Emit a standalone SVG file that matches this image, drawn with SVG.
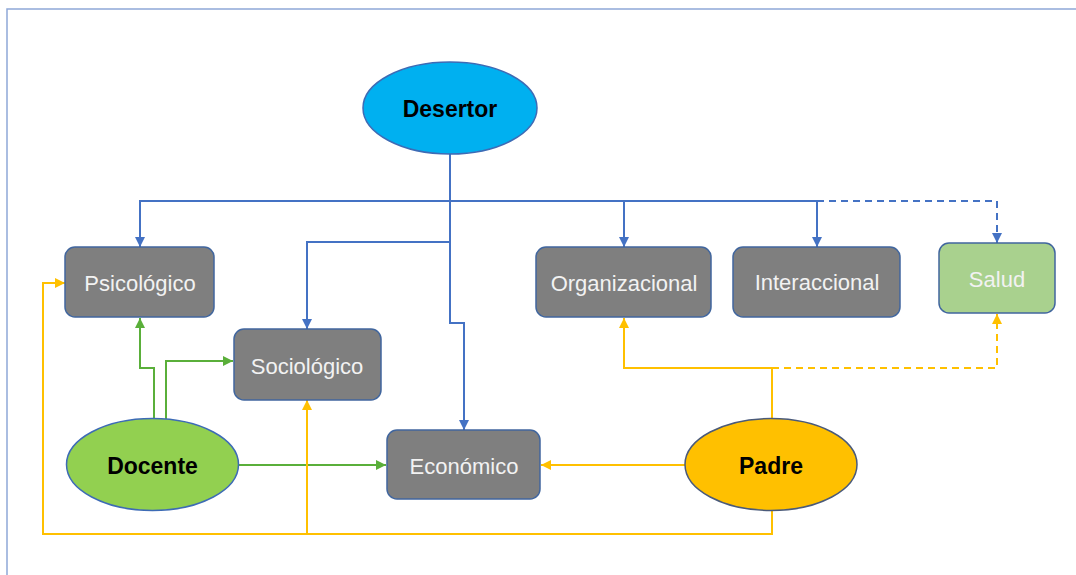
<svg xmlns="http://www.w3.org/2000/svg" width="1076" height="575" viewBox="0 0 1076 575">
<style>
.box{fill:#7F7F7F;stroke:#41669E;stroke-width:1.5}
.lbl{font-family:"Liberation Sans",Arial,sans-serif;font-size:22px;fill:#F2F2F2;text-anchor:middle;dominant-baseline:central}
.blbl{font-family:"Liberation Sans",Arial,sans-serif;font-size:23px;font-weight:bold;fill:#000;text-anchor:middle;dominant-baseline:central}
.b{fill:none;stroke:#4472C4;stroke-width:2}
.g{fill:none;stroke:#5AAF3A;stroke-width:2}
.y{fill:none;stroke:#FFC000;stroke-width:2}
.d{stroke-dasharray:7,5}
</style>
<defs>
<marker id="ab" viewBox="0 0 10 10" refX="10" refY="5" markerWidth="5" markerHeight="5" orient="auto"><path d="M0,0L10,5L0,10z" fill="#4472C4"/></marker>
<marker id="ag" viewBox="0 0 10 10" refX="10" refY="5" markerWidth="5" markerHeight="5" orient="auto"><path d="M0,0L10,5L0,10z" fill="#5AAF3A"/></marker>
<marker id="ay" viewBox="0 0 10 10" refX="10" refY="5" markerWidth="5" markerHeight="5" orient="auto"><path d="M0,0L10,5L0,10z" fill="#FFC000"/></marker>
</defs>
<rect x="0" y="0" width="1076" height="575" fill="#fff"/>
<rect x="7" y="9" width="1080" height="580" fill="none" stroke="#8FA8D8" stroke-width="1.5"/>
<g id="connectors">
<path class="b" d="M450,154 V323 H464 V430" marker-end="url(#ab)"/>
<path class="b" d="M450,201 H140 V247" marker-end="url(#ab)"/>
<path class="b" d="M450,242 H307 V329" marker-end="url(#ab)"/>
<path class="b" d="M450,201 H624 V247" marker-end="url(#ab)"/>
<path class="b" d="M624,201 H817 V247" marker-end="url(#ab)"/>
<path class="b d" d="M817,201 H997 V243" marker-end="url(#ab)"/>
<path class="g" d="M154,419 V368 H140 V318" marker-end="url(#ag)"/>
<path class="g" d="M166,419 V361 H233" marker-end="url(#ag)"/>
<path class="g" d="M239,465 H386" marker-end="url(#ag)"/>
<path class="y" d="M685,465 H541" marker-end="url(#ay)"/>
<path class="y" d="M772,511 V534 H43 V283 H65" marker-end="url(#ay)"/>
<path class="y" d="M307,534 V400" marker-end="url(#ay)"/>
<path class="y" d="M772,419 V368 H624 V318" marker-end="url(#ay)"/>
<path class="y d" d="M772,368 H997 V314" marker-end="url(#ay)"/>
</g>
<g id="desertor"><ellipse cx="450" cy="108" rx="87" ry="46" fill="#00B0F0" stroke="#3D6BB5" stroke-width="1.5"/><text class="blbl" x="450" y="109">Desertor</text></g>
<g id="psicologico"><rect class="box" x="65" y="247" width="149" height="70" rx="10"/><text class="lbl" x="140" y="283">Psicológico</text></g>
<g id="sociologico"><rect class="box" x="234" y="329" width="147" height="71" rx="10"/><text class="lbl" x="307" y="366">Sociológico</text></g>
<g id="economico"><rect class="box" x="387" y="430" width="153" height="69" rx="10"/><text class="lbl" x="464" y="466">Económico</text></g>
<g id="organizacional"><rect class="box" x="536" y="247" width="175" height="70" rx="10"/><text class="lbl" x="624" y="283">Organizacional</text></g>
<g id="interaccional"><rect class="box" x="733" y="247" width="167" height="70" rx="10"/><text class="lbl" x="817" y="282">Interaccional</text></g>
<g id="salud"><rect x="939" y="243" width="116" height="70" rx="10" fill="#A9D18E" stroke="#41669E" stroke-width="1.5"/><text class="lbl" x="997" y="279">Salud</text></g>
<g id="docente"><ellipse cx="152.5" cy="464.5" rx="86" ry="46" fill="#92D050" stroke="#3D6BB5" stroke-width="1.5"/><text class="blbl" x="152.5" y="466">Docente</text></g>
<g id="padre"><ellipse cx="771" cy="464.5" rx="86" ry="46" fill="#FFC000" stroke="#4A5A7A" stroke-width="1.5"/><text class="blbl" x="771" y="466">Padre</text></g>
</svg>
